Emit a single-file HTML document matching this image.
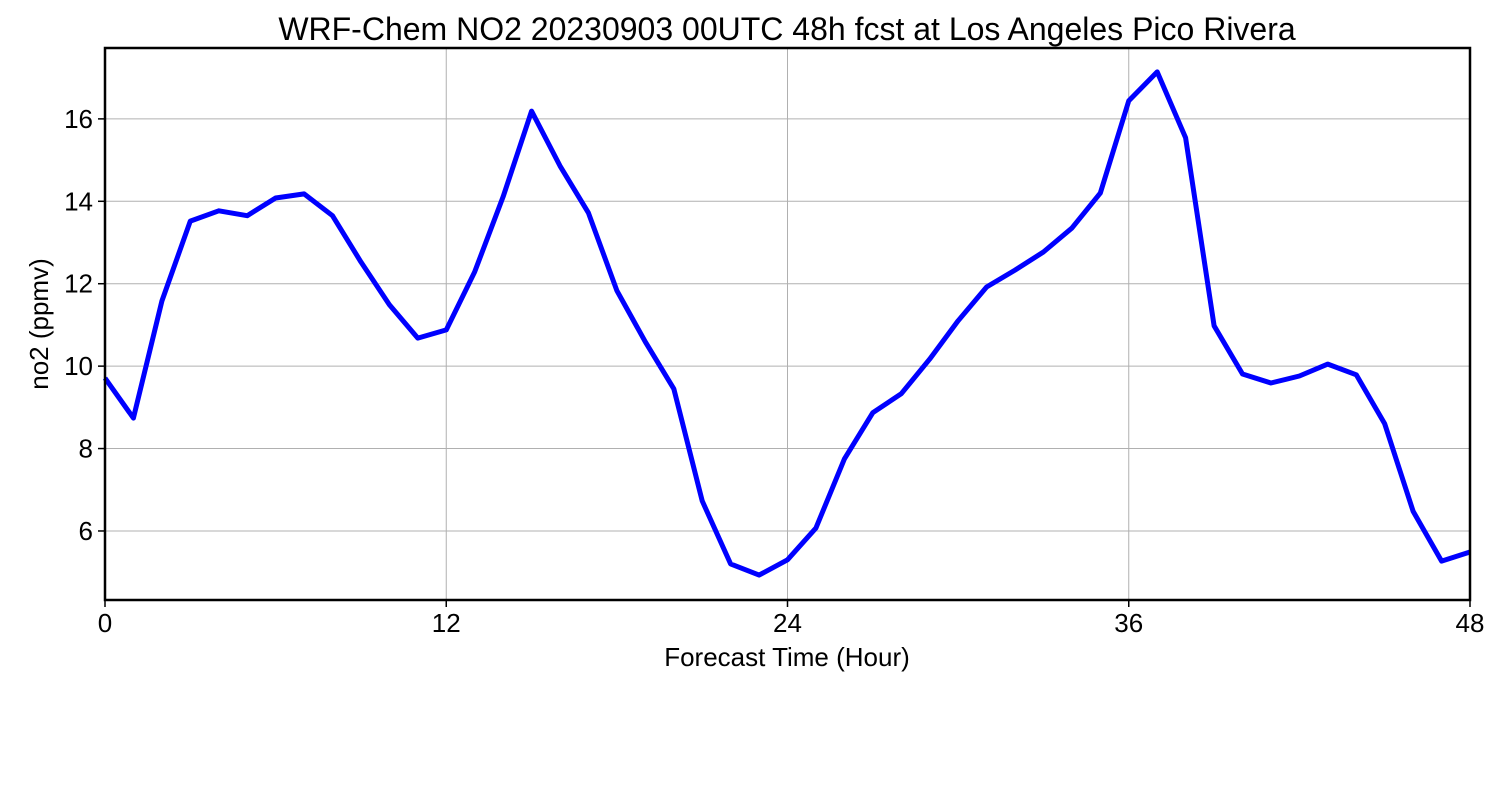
<!DOCTYPE html>
<html><head><meta charset="utf-8"><style>
html,body{margin:0;padding:0;background:#fff;}
svg{display:block;font-family:"Liberation Sans","DejaVu Sans",sans-serif;}
</style></head><body>
<svg id="chart" width="1500" height="800" xmlns="http://www.w3.org/2000/svg">
<text x="787" y="40" font-size="32" text-anchor="middle">WRF-Chem NO2  20230903 00UTC 48h fcst at Los Angeles Pico Rivera</text>
<g id="grid"></g>
<g id="series"></g>
<rect x="105" y="48" width="1365" height="552" fill="none" stroke="#000" stroke-width="2.5"/>
<g id="ticks"></g>
<text x="787" y="666" font-size="26" text-anchor="middle">Forecast Time (Hour)</text>
<text transform="translate(48,324) rotate(-90)" font-size="26" text-anchor="middle">no2  (ppmv)</text>
</svg>
<script>
const hours = [0,1,2,3,4,5,6,7,8,9,10,11,12,13,14,15,16,17,18,19,20,21,22,23,24,25,26,27,28,29,30,31,32,33,34,35,36,37,38,39,40,41,42,43,44,45,46,47,48];
const no2 = [9.71,8.74,11.58,13.52,13.77,13.65,14.08,14.18,13.65,12.53,11.49,10.68,10.88,12.29,14.11,16.19,14.86,13.72,11.83,10.59,9.45,6.73,5.20,4.93,5.30,6.07,7.75,8.87,9.33,10.17,11.10,11.92,12.33,12.77,13.35,14.20,16.44,17.14,15.54,10.98,9.81,9.59,9.76,10.05,9.79,8.60,6.48,5.27,5.49];
const xTicks = [0,12,24,36,48];
const yTicks = [6,8,10,12,14,16];
const xMin=0,xMax=48,yMin=4.325,yMax=17.72;
const L=105,R=1470,T=48,B=600;
const xs=v=>L+(v-xMin)/(xMax-xMin)*(R-L);
const ys=v=>B-(v-yMin)/(yMax-yMin)*(B-T);
const NS="http://www.w3.org/2000/svg";
const grid=document.getElementById('grid'),ticks=document.getElementById('ticks'),series=document.getElementById('series');
function mk(tag,attrs,parent){const e=document.createElementNS(NS,tag);for(const k in attrs)e.setAttribute(k,attrs[k]);parent.appendChild(e);return e;}
xTicks.forEach(t=>{
  const x=xs(t);
  const g=mk('line',{x1:x,x2:x,y1:T,y2:B,stroke:'#b0b0b0','stroke-width':1},grid);
  
  
  const tk=mk('line',{x1:x,x2:x,y1:B,y2:B+7,stroke:'#000','stroke-width':1.5},ticks);
  
  
  const lb=mk('text',{x:x,y:B+32,'font-size':26,'text-anchor':'middle'},ticks);
  lb.textContent=t;
  
  
});
yTicks.forEach(t=>{
  const y=ys(t);
  const g=mk('line',{x1:L,x2:R,y1:y,y2:y,stroke:'#b0b0b0','stroke-width':1},grid);
  
  
  const tk=mk('line',{x1:L-7,x2:L,y1:y,y2:y,stroke:'#000','stroke-width':1.5},ticks);
  
  
  const lb=mk('text',{x:L-12,y:y+9,'font-size':26,'text-anchor':'end'},ticks);
  lb.textContent=t;
  
  
});
const pts=hours.map((h,i)=>xs(h).toFixed(1)+','+ys(no2[i]).toFixed(1)).join(' ');
const line=mk('polyline',{points:pts,fill:'none',stroke:'#0000ff','stroke-width':5,'stroke-linejoin':'round'},series);


</script>
</body></html>
